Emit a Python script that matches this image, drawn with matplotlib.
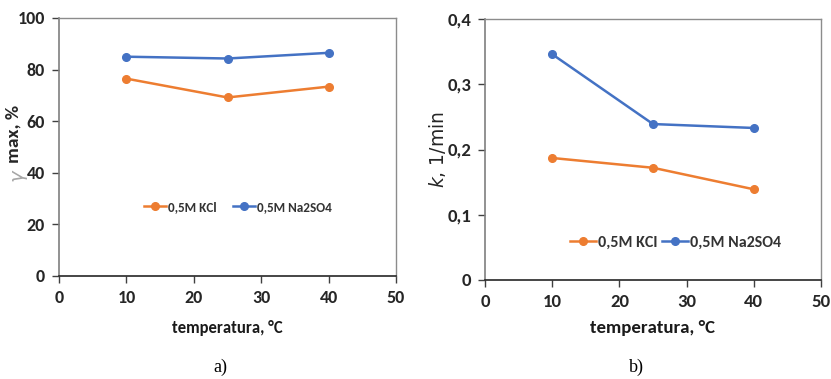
import matplotlib
matplotlib.use('Agg')
import matplotlib.pyplot as plt
from matplotlib import font_manager

# data
temps = [10, 25, 40]
gamma_kcl = [76.5, 69.2, 73.4]
gamma_na2so4 = [85.0, 84.3, 86.5]
k_kcl = [0.187, 0.172, 0.139]
k_na2so4 = [0.346, 0.239, 0.233]

x_ticks = [0, 10, 20, 30, 40, 50]
y_ticks_a = [0, 20, 40, 60, 80, 100]
y_ticks_b = [0, 0.1, 0.2, 0.3, 0.4]
y_labels_b = ['0', '0,1', '0,2', '0,3', '0,4']

orange = '#ED7D31'
blue = '#4472C4'

names = {f.name for f in font_manager.fontManager.ttflist}
narrow = 'DejaVu Sans'
for cand in ['Carlito', 'Liberation Sans Narrow', 'Roboto Condensed', 'Roboto', 'Liberation Sans']:
    if cand in names:
        narrow = cand
        break
tick_font = [narrow, 'DejaVu Sans']

fig = plt.figure(figsize=(8.31, 3.79), dpi=100)
W, H = 831, 379

def add_axes(x0, x1, ytop, ybot):
    return fig.add_axes([x0 / W, 1 - ybot / H, (x1 - x0) / W, (ybot - ytop) / H])

ax_a = add_axes(59, 396, 18, 276)
ax_b = add_axes(485, 821, 19, 280)

def style(ax, size):
    for s in ['top', 'right']:
        ax.spines[s].set_color('#8c8c8c')
        ax.spines[s].set_linewidth(1.0)
    ax.spines['left'].set_color('#7f7f7f')
    ax.spines['left'].set_linewidth(1.2)
    ax.spines['bottom'].set_color('#262626')
    ax.spines['bottom'].set_linewidth(1.2)
    ax.set_xlim(0, 50)
    ax.set_xticks(x_ticks)
    ax.tick_params(direction='out', length=5, width=1.0, colors='#404040',
                   labelcolor='#262626', pad=5, labelsize=size,
                   labelfontfamily=narrow)
    plt.setp(ax.get_xticklabels() + ax.get_yticklabels(), fontweight='bold')

# a) gamma max
ax_a.plot(temps, gamma_kcl, color=orange, lw=1.8, marker='o', ms=5.5, label='0,5M KCl')
ax_a.plot(temps, gamma_na2so4, color=blue, lw=1.8, marker='o', ms=5.5, label='0,5M Na2SO4')
ax_a.set_ylim(0, 100)
ax_a.set_yticks(y_ticks_a)
style(ax_a, 13)
ax_a.set_xlabel('temperatura, °C', fontsize=12, fontweight='bold', family=tick_font,
                color='#1a1a1a', labelpad=10)
leg_a = ax_a.legend(loc='center', bbox_to_anchor=(0.531, 0.267), ncol=2, frameon=False,
                    prop={'family': tick_font, 'size': 9.5, 'weight': 'bold'},
                    handlelength=1.7, columnspacing=1.2, handletextpad=0.15)
for t in leg_a.get_texts():
    t.set_color('#333333')
fig.text(14 / W, 1 - 134 / H, 'max, %', rotation=90, ha='center', va='center',
         fontsize=14, fontweight='bold', family=tick_font, color='#262626')
fig.text(17 / W, 1 - 175 / H, 'γ', rotation=90, ha='center', va='center',
         fontsize=14, style='italic', color='#a6a6a6')

# b) rate constant
ax_b.plot(temps, k_kcl, color=orange, lw=1.8, marker='o', ms=5.5, label='0,5M KCl')
ax_b.plot(temps, k_na2so4, color=blue, lw=1.8, marker='o', ms=5.5, label='0,5M Na2SO4')
ax_b.set_ylim(0, 0.4)
ax_b.set_yticks(y_ticks_b, y_labels_b)
style(ax_b, 13.5)
ax_b.set_xlabel('temperatura, °C', fontsize=13.5, fontweight='bold', family=tick_font,
                color='#1a1a1a', labelpad=7)
ax_b.set_ylabel('$k$, 1/min', fontsize=13.5, color='#262626')
ax_b.yaxis.set_label_coords(-0.11, 0.5)
leg_b = ax_b.legend(loc='center', bbox_to_anchor=(0.568, 0.142), ncol=2, frameon=False,
                    prop={'family': tick_font, 'size': 11.5, 'weight': 'bold'},
                    handlelength=1.6, columnspacing=0.3, handletextpad=0.15)
for t in leg_b.get_texts():
    t.set_color('#333333')

fig.text(220 / W, 1 - 367 / H, 'a)', ha='center', va='center', fontsize=13,
         family='Liberation Serif')
fig.text(636 / W, 1 - 367 / H, 'b)', ha='center', va='center', fontsize=13,
         family='Liberation Serif')

fig.savefig('out.png', dpi=100)
